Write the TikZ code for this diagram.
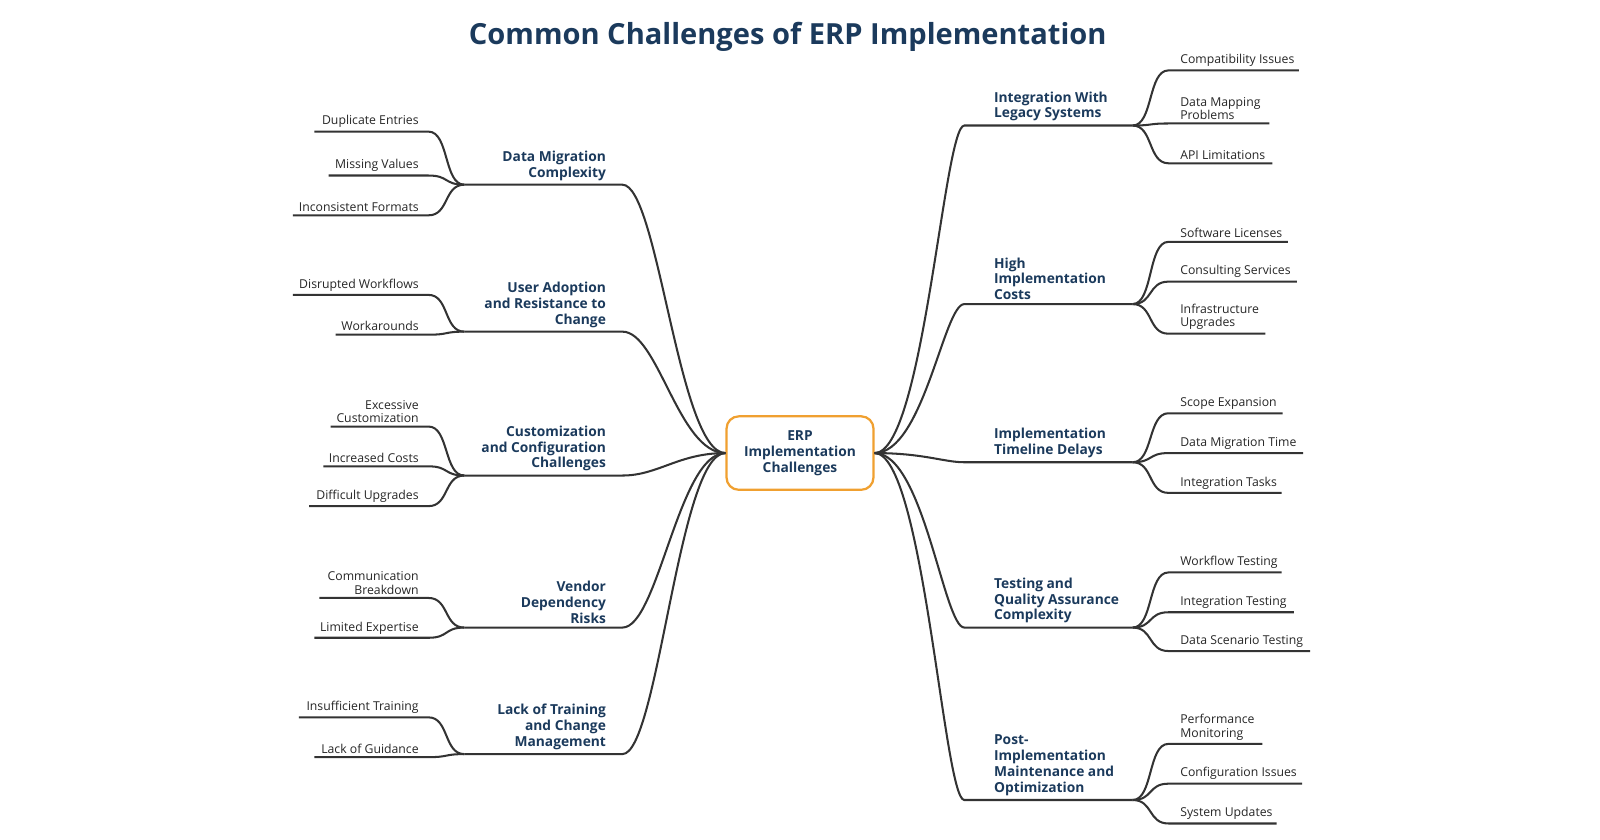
\documentclass[tikz,border=0pt]{standalone}
\usepackage{fontspec}
\setmainfont{Open Sans}
\begin{document}
\begin{tikzpicture}[x=1pt,y=-1pt,
  con/.style={draw=black!80,line width=2pt},
  leaf/.style={font=\fontsize{12}{13}\selectfont,text=black!85,inner sep=1.5pt},
  br/.style={font=\bfseries\fontsize{13.5}{15.5}\selectfont,text=navy,inner sep=2pt},
]
\definecolor{navy}{HTML}{1B3A5C}
\definecolor{orng}{HTML}{F0A030}
\node[font=\bfseries\fontsize{28.5}{32}\selectfont,text=navy] (title) at (772,36) {Common Challenges of ERP Implementation};
\node[draw=orng,line width=2.2pt,rounded corners=12pt,minimum width=144pt,minimum height=72pt,align=center,br] (C) at (784,444) {ERP\\Implementation\\Challenges};
\foreach \i/\y/\t in {1/181/{Data Migration\\Complexity},2/325/{User Adoption\\and Resistance to\\Change},3/466/{Customization\\and Configuration\\Challenges},4/615/{Vendor\\Dependency\\Risks},5/739/{Lack of Training\\and Change\\Management}}{
  \coordinate (L\i a) at (455,\y); \coordinate (L\i b) at (610,\y);
  \draw[con] (C.west) .. controls (665,444) and (645,\y) .. (L\i b) -- (L\i a);
  \node[br,align=right,anchor=south east] (LB\i) at (596,\y-2) {\t};
}
\foreach \b/\j/\y/\by/\x/\t in {1/1/129/181/308/{Duplicate Entries},1/2/172/181/322/{Missing Values},1/3/211/181/287/{Inconsistent Formats},
 2/1/289/325/287/{Disrupted Workflows},2/2/328/325/329/{Workarounds},
 3/1/418/466/324/{Excessive\\Customization},3/2/457/466/317/{Increased Costs},3/3/496/466/303/{Difficult Upgrades},
 4/1/586/615/313/{Communication\\Breakdown},4/2/625/615/308/{Limited Expertise},
 5/1/703/739/293/{Insufficient Training},5/2/742/739/308/{Lack of Guidance}}{
  \coordinate (LL\b\j r) at (420,\y); \coordinate (LL\b\j l) at (\x,\y);
  \draw[con] (L\b a) .. controls (435,\by) and (440,\y) .. (LL\b\j r) -- (LL\b\j l);
  \node[leaf,align=right,anchor=south east] (LT\b\j) at (412,\y-2) {\t};
}
\foreach \i/\y/\t in {1/123/{Integration With\\Legacy Systems},2/298/{High\\Implementation\\Costs},3/453/{Implementation\\Timeline Delays},4/615/{Testing and\\Quality Assurance\\Complexity},5/784/{Post-\\Implementation\\Maintenance and\\Optimization}}{
  \coordinate (R\i a) at (1110,\y); \coordinate (R\i b) at (945,\y);
  \draw[con] (C.east) .. controls (905,444) and (925,\y) .. (R\i b) -- (R\i a);
  \node[br,align=left,anchor=south west] (RB\i) at (972,\y-2) {\t};
}
\foreach \b/\j/\y/\by/\x/\t in {1/1/69/123/1273/{Compatibility Issues},1/2/121/123/1244/{Data Mapping\\Problems},1/3/160/123/1247/{API Limitations},
 2/1/237/298/1262/{Software Licenses},2/2/276/298/1271/{Consulting Services},2/3/327/298/1240/{Infrastructure\\Upgrades},
 3/1/405/453/1257/{Scope Expansion},3/2/444/453/1277/{Data Migration Time},3/3/483/453/1256/{Integration Tasks},
 4/1/561/615/1256/{Workflow Testing},4/2/600/615/1268/{Integration Testing},4/3/638/615/1284/{Data Scenario Testing},
 5/1/729/784/1237/{Performance\\Monitoring},5/2/768/784/1276/{Configuration Issues},5/3/807/784/1251/{System Updates}}{
  \coordinate (RL\b\j l) at (1145,\y); \coordinate (RL\b\j r) at (\x,\y);
  \draw[con] (R\b a) .. controls (1130,\by) and (1125,\y) .. (RL\b\j l) -- (RL\b\j r);
  \node[leaf,align=left,anchor=south west] (RT\b\j) at (1155,\y-2) {\t};
}
\pgfresetboundingbox
\path[use as bounding box] (0,0) rectangle (1568,823);
\end{tikzpicture}
\end{document}
